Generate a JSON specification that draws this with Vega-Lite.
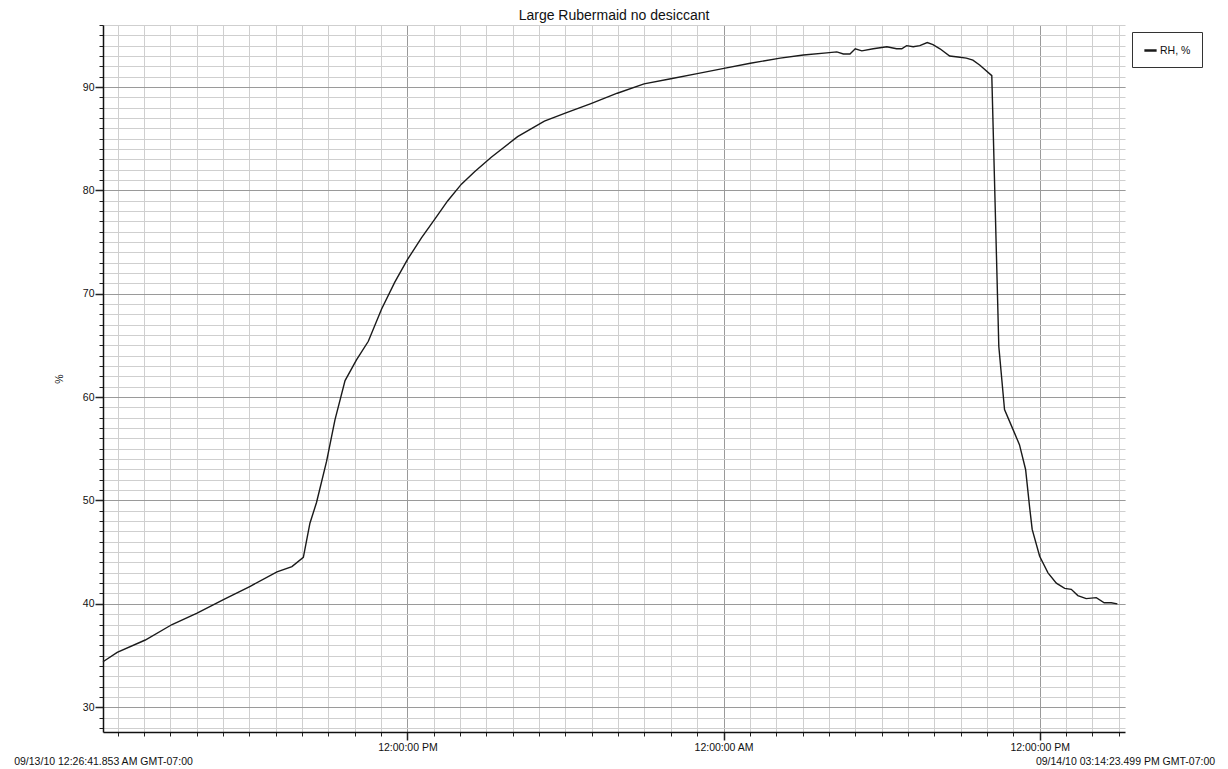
{
  "$schema": "https://vega.github.io/schema/vega-lite/v6.json",
  "width": 1022,
  "height": 707,
  "autosize": {"type": "none"},
  "padding": {"left": 103, "top": 25, "right": 103, "bottom": 37},
  "background": "white",
  "title": {"text": "Large Rubermaid no desiccant", "fontSize": 14, "fontWeight": "normal", "font": "Liberation Sans", "color": "#111", "anchor": "middle", "offset": 2},
  "config": {
    "view": {"stroke": null},
    "font": "Liberation Sans",
    "axis": {"labelFont": "Liberation Sans", "labelColor": "#111", "labelFontSize": 10.5, "titleFont": "Liberation Sans", "titleColor": "#111", "titleFontWeight": "normal", "titleFontSize": 10.5}
  },
  "data": {"values": [
    {"t": "2010-09-13T00:26:42Z", "rh": 34.4},
    {"t": "2010-09-13T00:59:00Z", "rh": 35.3},
    {"t": "2010-09-13T02:03:00Z", "rh": 36.5},
    {"t": "2010-09-13T03:04:00Z", "rh": 38.0},
    {"t": "2010-09-13T04:01:00Z", "rh": 39.1},
    {"t": "2010-09-13T05:01:00Z", "rh": 40.4},
    {"t": "2010-09-13T06:02:00Z", "rh": 41.7},
    {"t": "2010-09-13T07:03:00Z", "rh": 43.1},
    {"t": "2010-09-13T07:37:00Z", "rh": 43.6},
    {"t": "2010-09-13T08:03:00Z", "rh": 44.5},
    {"t": "2010-09-13T08:18:00Z", "rh": 47.8},
    {"t": "2010-09-13T08:33:00Z", "rh": 49.8},
    {"t": "2010-09-13T08:56:00Z", "rh": 53.8},
    {"t": "2010-09-13T09:15:00Z", "rh": 57.8},
    {"t": "2010-09-13T09:38:00Z", "rh": 61.6},
    {"t": "2010-09-13T10:04:00Z", "rh": 63.6},
    {"t": "2010-09-13T10:31:00Z", "rh": 65.4},
    {"t": "2010-09-13T11:01:00Z", "rh": 68.5},
    {"t": "2010-09-13T11:31:00Z", "rh": 71.1},
    {"t": "2010-09-13T12:00:00Z", "rh": 73.3},
    {"t": "2010-09-13T12:32:00Z", "rh": 75.4},
    {"t": "2010-09-13T13:02:00Z", "rh": 77.2},
    {"t": "2010-09-13T13:32:00Z", "rh": 79.0},
    {"t": "2010-09-13T14:03:00Z", "rh": 80.6},
    {"t": "2010-09-13T14:33:00Z", "rh": 81.8},
    {"t": "2010-09-13T15:11:00Z", "rh": 83.2},
    {"t": "2010-09-13T16:11:00Z", "rh": 85.2},
    {"t": "2010-09-13T17:12:00Z", "rh": 86.7},
    {"t": "2010-09-13T18:01:00Z", "rh": 87.5},
    {"t": "2010-09-13T18:58:00Z", "rh": 88.4},
    {"t": "2010-09-13T19:58:00Z", "rh": 89.4},
    {"t": "2010-09-13T20:59:00Z", "rh": 90.3},
    {"t": "2010-09-13T22:00:00Z", "rh": 90.8},
    {"t": "2010-09-13T23:00:00Z", "rh": 91.3},
    {"t": "2010-09-14T00:01:00Z", "rh": 91.8},
    {"t": "2010-09-14T01:01:00Z", "rh": 92.3},
    {"t": "2010-09-14T02:09:00Z", "rh": 92.8},
    {"t": "2010-09-14T03:02:00Z", "rh": 93.1},
    {"t": "2010-09-14T03:55:00Z", "rh": 93.3},
    {"t": "2010-09-14T04:18:00Z", "rh": 93.4},
    {"t": "2010-09-14T04:33:00Z", "rh": 93.2},
    {"t": "2010-09-14T04:48:00Z", "rh": 93.2},
    {"t": "2010-09-14T05:00:00Z", "rh": 93.7},
    {"t": "2010-09-14T05:15:00Z", "rh": 93.5},
    {"t": "2010-09-14T05:41:00Z", "rh": 93.7},
    {"t": "2010-09-14T06:12:00Z", "rh": 93.9},
    {"t": "2010-09-14T06:34:00Z", "rh": 93.7},
    {"t": "2010-09-14T06:46:00Z", "rh": 93.7},
    {"t": "2010-09-14T06:57:00Z", "rh": 94.0},
    {"t": "2010-09-14T07:12:00Z", "rh": 93.9},
    {"t": "2010-09-14T07:27:00Z", "rh": 94.0},
    {"t": "2010-09-14T07:44:00Z", "rh": 94.3},
    {"t": "2010-09-14T07:57:00Z", "rh": 94.1},
    {"t": "2010-09-14T08:13:00Z", "rh": 93.7},
    {"t": "2010-09-14T08:35:00Z", "rh": 93.0},
    {"t": "2010-09-14T08:54:00Z", "rh": 92.9},
    {"t": "2010-09-14T09:13:00Z", "rh": 92.8},
    {"t": "2010-09-14T09:28:00Z", "rh": 92.6},
    {"t": "2010-09-14T09:44:00Z", "rh": 92.1},
    {"t": "2010-09-14T10:11:00Z", "rh": 91.1},
    {"t": "2010-09-14T10:27:00Z", "rh": 64.9},
    {"t": "2010-09-14T10:40:00Z", "rh": 58.8},
    {"t": "2010-09-14T10:59:00Z", "rh": 56.9},
    {"t": "2010-09-14T11:14:00Z", "rh": 55.4},
    {"t": "2010-09-14T11:28:00Z", "rh": 53.0},
    {"t": "2010-09-14T11:37:00Z", "rh": 49.4},
    {"t": "2010-09-14T11:43:00Z", "rh": 47.2},
    {"t": "2010-09-14T12:00:00Z", "rh": 44.6},
    {"t": "2010-09-14T12:19:00Z", "rh": 43.0},
    {"t": "2010-09-14T12:38:00Z", "rh": 42.0},
    {"t": "2010-09-14T12:57:00Z", "rh": 41.5},
    {"t": "2010-09-14T13:12:00Z", "rh": 41.4},
    {"t": "2010-09-14T13:27:00Z", "rh": 40.8},
    {"t": "2010-09-14T13:46:00Z", "rh": 40.5},
    {"t": "2010-09-14T14:09:00Z", "rh": 40.6},
    {"t": "2010-09-14T14:27:00Z", "rh": 40.1},
    {"t": "2010-09-14T14:43:00Z", "rh": 40.1},
    {"t": "2010-09-14T14:57:00Z", "rh": 40.0}
  ]},
  "resolve": {"axis": {"x": "independent", "y": "independent"}},
  "layer": [
    {
      "mark": {"type": "line", "strokeOpacity": 0},
      "encoding": {
        "x": {"field": "t", "type": "temporal",
          "scale": {"type": "utc", "domain": [1284337601853, 1284477263499], "nice": false},
          "axis": {"orient": "bottom", "title": null, "labels": false, "domain": false, "values": [1284339600000,1284343200000,1284346800000,1284350400000,1284354000000,1284357600000,1284361200000,1284364800000,1284368400000,1284372000000,1284375600000,1284379200000,1284382800000,1284386400000,1284390000000,1284393600000,1284397200000,1284400800000,1284404400000,1284408000000,1284411600000,1284415200000,1284418800000,1284422400000,1284426000000,1284429600000,1284433200000,1284436800000,1284440400000,1284444000000,1284447600000,1284451200000,1284454800000,1284458400000,1284462000000,1284465600000,1284469200000,1284472800000,1284476400000], "tickSize": 4, "tickColor": "#222", "tickWidth": 1, "grid": true, "gridColor": "#cfcfcf", "gridWidth": 1}},
        "y": {"field": "rh", "type": "quantitative",
          "scale": {"domain": [27.6, 96.0], "nice": false, "zero": false},
          "axis": {"orient": "left", "title": null, "labels": false, "domain": false, "values": [28,29,30,31,32,33,34,35,36,37,38,39,40,41,42,43,44,45,46,47,48,49,50,51,52,53,54,55,56,57,58,59,60,61,62,63,64,65,66,67,68,69,70,71,72,73,74,75,76,77,78,79,80,81,82,83,84,85,86,87,88,89,90,91,92,93,94,95,96], "tickSize": 4, "tickColor": "#222", "tickWidth": 1, "grid": true, "gridColor": "#cfcfcf", "gridWidth": 1}}
      }
    },
    {
      "mark": {"type": "line", "strokeOpacity": 0},
      "encoding": {
        "x": {"field": "t", "type": "temporal",
          "scale": {"type": "utc", "domain": [1284337601853, 1284477263499], "nice": false},
          "axis": {"orient": "bottom", "title": null, "values": [1284379200000, 1284422400000, 1284465600000], "format": "%I:%M:%S %p", "labelFlush": false, "labelOverlap": false, "labelPadding": 2, "tickSize": 8, "tickColor": "#222", "tickWidth": 1.5, "domain": true, "domainColor": "#111", "domainWidth": 1.5, "grid": true, "gridColor": "#9a9a9a", "gridWidth": 1}},
        "y": {"field": "rh", "type": "quantitative",
          "scale": {"domain": [27.6, 96.0], "nice": false, "zero": false},
          "axis": {"orient": "left", "title": "%", "titlePadding": 18, "values": [30, 40, 50, 60, 70, 80, 90], "labelPadding": 1, "tickSize": 8, "tickColor": "#222", "tickWidth": 1.5, "domain": true, "domainColor": "#111", "domainWidth": 1.5, "grid": true, "gridColor": "#9a9a9a", "gridWidth": 1}}
      }
    },
    {
      "mark": {"type": "line", "strokeWidth": 1.4},
      "encoding": {
        "x": {"field": "t", "type": "temporal",
          "scale": {"type": "utc", "domain": [1284337601853, 1284477263499], "nice": false},
          "axis": {"orient": "bottom", "title": null, "values": [1284337601853, 1284477263499], "labelExpr": "datum.index < 0.5 ? '09/13/10 12:26:41.853 AM GMT-07:00' : '09/14/10 03:14:23.499 PM GMT-07:00'", "labelFlush": false, "labelOverlap": false, "labelBound": false, "labelPadding": 24, "ticks": false, "domain": false, "grid": false}},
        "y": {"field": "rh", "type": "quantitative",
          "scale": {"domain": [27.6, 96.0], "nice": false, "zero": false},
          "axis": null},
        "color": {"datum": "RH, %", "type": "nominal",
          "scale": {"range": ["#1a1a1a"]},
          "legend": {"title": null, "orient": "none", "legendX": 1029, "legendY": 7, "padding": 11, "strokeColor": "#333", "symbolType": "stroke", "symbolStrokeWidth": 2.5, "symbolSize": 150, "labelFontSize": 10.5, "labelFont": "Liberation Sans", "labelColor": "#111", "labelOffset": 2}}
      }
    }
  ]
}
